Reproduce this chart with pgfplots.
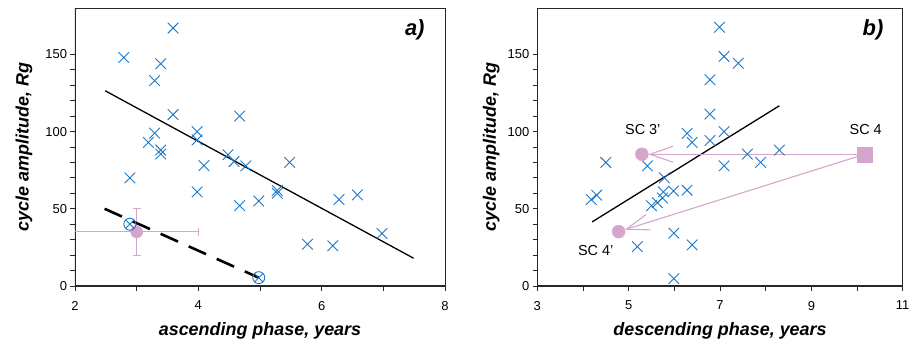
\documentclass[border=0pt]{standalone}
\usepackage{fontspec}
\setmainfont{Liberation Sans}
\usepackage{pgfplots}
\pgfplotsset{compat=1.18}
\usetikzlibrary{arrows.meta}
\definecolor{bx}{RGB}{28,120,200}
\definecolor{pk}{RGB}{212,166,204}
\definecolor{ax}{RGB}{40,40,40}
\pgfplotsset{
  base/.style={
    scale only axis, height=278bp,
    ymin=0, ymax=180, ytick={0,50,100,150}, minor y tick num=4,
    xtick pos=bottom, ytick pos=left,
    tick align=outside, major tick length=4.5bp, minor tick length=3.5bp,
    tick style={line width=0.8bp, ax},
    axis line style={line width=0.8bp, ax},
    /pgf/number format/assume math mode=true,
    tick label style={font=\fontsize{13}{15}\selectfont},
    xticklabel style={yshift=-7bp},
    label style={font=\fontsize{18}{20}\selectfont\bfseries\itshape},
    xlabel style={at={(axis description cs:0.5,0)}, anchor=center, yshift=-45bp},
  },
  cross/.style={only marks, mark=x, mark size=7.5bp, bx, mark options={line width=0.9bp}},
}
\begin{document}
\begin{tikzpicture}
\useasboundingbox (-75bp,-55bp) rectangle (835bp,286bp);
% ---------------- panel a
\begin{axis}[base, width=370bp, xmin=2, xmax=8, xtick={2,4,6,8}, minor xtick={3,5,7},
  minor tick length=4.5bp,
  xlabel={ascending phase, years}, ylabel={cycle amplitude, Rg},
  ylabel style={at={([xshift=-51bp]axis description cs:0,0.5)}, anchor=center}]
\draw[line width=1.8bp, ax] (rel axis cs:0,1) -- (rel axis cs:0,0) -- (rel axis cs:1,0);
% error bars of the mean point (3.0, 35) +- (1, 15)
\addplot[pk, line width=0.9bp] coordinates {(2,35) (4,35)};
\addplot[pk, line width=0.9bp] coordinates {(3,20) (3,50)};
\addplot[pk, only marks, mark=|, mark size=4bp, mark options={line width=0.9bp}] coordinates {(4,35)};
\addplot[pk, only marks, mark=-, mark size=4bp, mark options={line width=0.9bp}] coordinates {(3,20) (3,50)};
\addplot[only marks, mark=*, mark size=6bp, mark options={fill=pk, draw=pk}] coordinates {(3.0,35)};
\addplot[cross] coordinates {
(2.79,148.0) (3.59,167) (3.39,143.9) (3.29,133) (3.59,111) (4.67,110)
(3.29,99) (3.98,100) (3.98,94.6) (3.19,93) (3.39,88) (3.39,85.5)
(4.48,85) (4.58,80.6) (4.77,77.8) (4.09,78) (5.48,80) (2.89,70)
(3.98,61) (5.28,61.8) (5.28,60) (4.67,52) (4.98,55) (6.28,56)
(6.58,59) (5.77,27) (6.18,26) (6.98,34)};
\addplot[only marks, mark=otimes, mark size=6bp, bx, mark options={line width=0.9bp}]
  coordinates {(2.89,40) (4.98,5.4)};
\addplot[black, line width=1.3bp] coordinates {(2.49,126.4) (7.49,18)};
\addplot[black, line width=2.6bp, dash pattern=on 19bp off 11.7bp] coordinates {(2.48,50) (4.98,5.4)};
\node[font=\fontsize{22}{24}\selectfont\bfseries\itshape] at (axis cs:7.51,166) {a)};
\end{axis}
% ---------------- panel b
\begin{axis}[base, at={(462.3bp,0)}, width=365.4bp, xmin=3, xmax=11, xtick={3,5,7,9,11}, minor xtick={4,6,8,10},
  minor tick length=4.5bp,
  xlabel={descending phase, years}, ylabel={cycle amplitude, Rg},
  ylabel style={at={([xshift=-46bp]axis description cs:0,0.5)}, anchor=center}]
\draw[line width=1.8bp, ax] (rel axis cs:0,1) -- (rel axis cs:0,0) -- (rel axis cs:1,0);
\addplot[cross] coordinates {
(6.99,167.5) (7.09,148.6) (7.40,144.2) (6.78,133.5) (6.78,111.3) (7.09,100)
(6.28,98.8) (6.39,93) (6.78,94.2) (7.60,85.4) (7.89,80) (8.30,88)
(7.09,77.8) (4.50,80) (5.41,77.8) (5.78,70) (5.76,61) (5.98,61.5)
(6.28,62) (5.74,57) (5.63,54) (5.50,52) (4.18,56) (4.30,58.8)
(5.99,34.2) (5.19,25.5) (6.39,26.6) (5.99,4.8)};
\addplot[black, line width=1.3bp] coordinates {(4.20,41.5) (8.30,116.7)};
\addplot[pk, line width=1.1bp, -{Straight Barb[length=23bp,width=16bp,line width=1.1bp]},
  shorten <=7.5bp, shorten >=6.5bp] coordinates {(10.17,85.3) (5.29,85.3)};
\addplot[pk, line width=1.1bp, -{Straight Barb[length=23bp,width=16bp,line width=1.1bp]},
  shorten <=7.5bp, shorten >=6.5bp] coordinates {(10.17,85.3) (4.78,35.2)};
\addplot[only marks, mark=*, mark size=6.5bp, pk, mark options={fill=pk, draw=pk}]
  coordinates {(5.29,85.3) (4.78,35.2)};
\addplot[only marks, mark=square*, mark size=7.5bp, pk, mark options={fill=pk, draw=pk}]
  coordinates {(10.17,85.3)};
\node[font=\fontsize{14.5}{16}\selectfont] at (axis cs:5.31,101.6) {SC 3'};
\node[font=\fontsize{14.5}{16}\selectfont] at (axis cs:10.19,101.6) {SC 4};
\node[font=\fontsize{14.5}{16}\selectfont] at (axis cs:4.28,22.7) {SC 4'};
\node[font=\fontsize{22}{24}\selectfont\bfseries\itshape] at (axis cs:10.35,166) {b)};
\end{axis}
\end{tikzpicture}
\end{document}
